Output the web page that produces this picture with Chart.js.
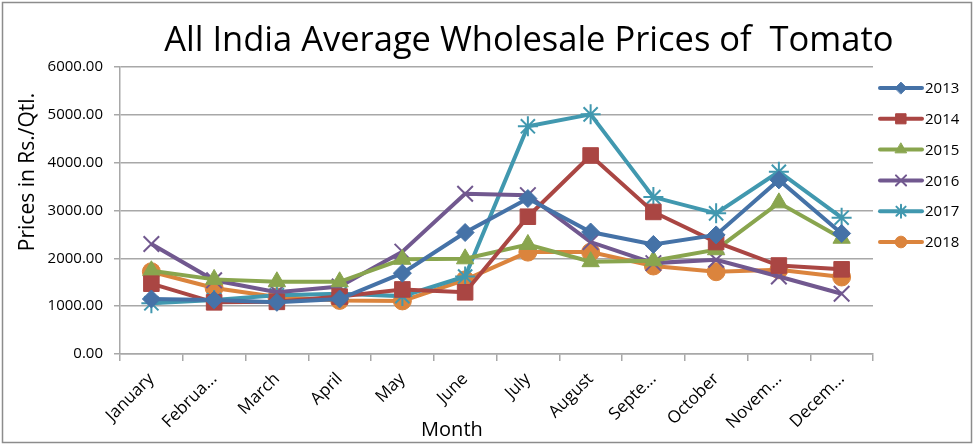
<!DOCTYPE html>
<html>
<head>
<meta charset="utf-8">
<script src="https://cdn.jsdelivr.net/npm/chart.js@4.4.0/dist/chart.umd.min.js"></script>
<style>
  body { margin: 0; background: #fff; }
  #wrap { width: 974px; height: 445px; }
</style>
</head>
<body>
<div id="wrap"><canvas id="tomatoChart" width="974" height="445"></canvas></div>
<script>
// months as shown on the axis (excel truncates the long ones)
const months = ['January', 'Februa...', 'March', 'April', 'May', 'June', 'July', 'August', 'Septe...', 'October', 'Novem...', 'Decem...'];
const yTicks = [0, 1000, 2000, 3000, 4000, 5000, 6000];

const prices2013 = [1150, 1130, 1080, 1150, 1690, 2540, 3250, 2550, 2290, 2490, 3640, 2520];
const prices2014 = [1470, 1080, 1090, 1200, 1350, 1290, 2870, 4150, 2970, 2340, 1850, 1770];
const prices2015 = [1740, 1560, 1510, 1510, 1980, 1990, 2290, 1930, 1950, 2180, 3160, 2420];
const prices2016 = [2300, 1540, 1290, 1410, 2140, 3350, 3320, 2340, 1900, 1970, 1620, 1260];
const prices2017 = [1060, 1130, 1230, 1260, 1210, 1620, 4760, 5010, 3280, 2940, 3810, 2850];
const prices2018 = [1720, 1380, 1190, 1120, 1110, 1550, 2130, 2130, 1840, 1720, 1760, 1610];

const font = 'Open Sans';
const grey = '#a8a8a8';

function series(label, data, color, style, radius) {
    let open = style === 'crossRot' || style === 'star';
    return {
        label: label,
        data: data,
        borderColor: color,
        backgroundColor: color,
        borderWidth: 4,
        pointStyle: style,
        pointRadius: radius,
        pointHoverRadius: radius,
        pointBorderWidth: open ? 2 : 1,
        tension: 0
    };
}

const datasets = [
    series('2013', prices2013, '#4572A7', 'rectRot', 9),
    series('2014', prices2014, '#AA4643', 'rect', 11),
    series('2015', prices2015, '#89A54E', 'triangle', 10),
    series('2016', prices2016, '#71588F', 'crossRot', 11),
    series('2017', prices2017, '#4198AF', 'star', 10),
    series('2018', prices2018, '#DB843D', 'circle', 9)
];

// title, axis titles, legend and frame drawn by hand to sit where excel put them
const extras = {
    id: 'extras',
    afterDraw(chart) {
        const c = chart.ctx;
        const w = chart.width, h = chart.height;
        c.save();
        c.strokeStyle = '#8c8c8c';
        c.lineWidth = 1.5;
        c.strokeRect(2.5, 2.5, w - 5, h - 5);

        c.fillStyle = '#000';
        c.textAlign = 'center';
        c.textBaseline = 'middle';
        c.font = '34.5px ' + font;
        c.fillText('All India Average Wholesale Prices of  Tomato', w * 0.543, 41);

        c.font = '20px ' + font;
        c.fillText('Month', w * 0.464, 430);

        c.save();
        c.translate(28, 172);
        c.rotate(-Math.PI / 2);
        c.font = '21px ' + font;
        c.fillText('Prices in Rs./Qtl.', 0, 0);
        c.restore();

        c.font = '15px ' + font;
        c.textAlign = 'left';
        chart.data.datasets.forEach((ds, i) => {
            let y = 88 + i * 30.8;
            c.strokeStyle = ds.borderColor;
            c.lineWidth = 4;
            c.lineCap = 'round';
            c.beginPath();
            c.moveTo(880, y);
            c.lineTo(922, y);
            c.stroke();
            c.fillStyle = ds.backgroundColor;
            c.strokeStyle = ds.borderColor;
            c.lineWidth = ds.pointBorderWidth;
            Chart.helpers.drawPoint(c, {pointStyle: ds.pointStyle, radius: ds.pointRadius * 0.65, rotation: 0, borderWidth: ds.pointBorderWidth}, 901, y);
            c.fillStyle = '#000';
            c.fillText(ds.label, 925, y + 1);
        });
        c.restore();
    }
};

new Chart(document.getElementById('tomatoChart'), {
    type: 'line',
    data: { labels: months, datasets: datasets },
    plugins: [extras],
    options: {
        responsive: false,
        animation: false,
        layout: { padding: { top: 67, right: 101, bottom: 0, left: 2 } },
        plugins: {
            legend: { display: false },
            title: { display: false },
            tooltip: { enabled: false }
        },
        scales: {
            x: {
                offset: true,
                afterFit: s => { s.height = 91; },
                grid: { display: true, drawOnChartArea: false, offset: true, tickLength: 7, color: grey, lineWidth: 1.5 },
                border: { color: grey, width: 1.5 },
                ticks: { minRotation: 45, maxRotation: 45, autoSkip: false, color: '#000', font: { family: font, size: 17 }, padding: 8 }
            },
            y: {
                min: yTicks[0],
                max: yTicks[yTicks.length - 1],
                afterFit: s => { s.width = 118; },
                afterBuildTicks: s => { s.ticks = yTicks.map(v => ({ value: v })); },
                grid: { color: grey, lineWidth: 1.5, tickLength: 6 },
                border: { color: grey, width: 1.5 },
                ticks: { color: '#000', font: { family: font, size: 15 }, padding: 11, callback: v => v.toFixed(2) }
            }
        }
    }
});
</script>
</body>
</html>
